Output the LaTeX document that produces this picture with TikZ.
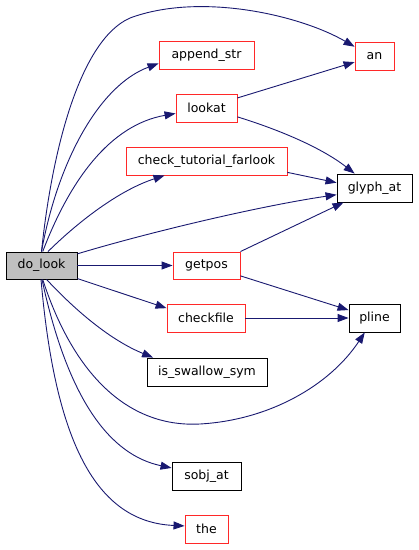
\documentclass[tikz,border=0pt]{standalone}
\usepackage{fontspec}
\setmainfont{DejaVu Sans}
\usetikzlibrary{arrows.meta}
\definecolor{edgeblue}{RGB}{25,25,112}
\definecolor{linkred}{RGB}{255,40,40}
\definecolor{rootgrey}{RGB}{191,191,191}
\tikzset{every node/.style={font=\fontsize{12.5}{14}\selectfont},line cap=round,line join=round,
  fn/.style={draw=black,line width=0.9pt,fill=white,minimum height=28pt,inner sep=0pt},
  fnlink/.style={fn,draw=linkred},
  call/.style={draw=edgeblue,line width=0.9pt,-{Triangle[length=11pt,width=8pt]}}}

\begin{document}
\begin{tikzpicture}[x=1pt,y=-1pt]
  \path[use as bounding box] (0,0) rectangle (419,550);
  % callers column
  \node[fn,fill=rootgrey,minimum width=71pt,minimum height=27pt] (do_look) at (41.5,265.5) {do\_look};
  % called functions
  \node[fnlink,minimum width=95pt] (append_str) at (206.5,55) {append\_str};
  \node[fnlink,minimum width=61pt] (lookat) at (206.5,108) {lookat};
  \node[fnlink,minimum width=161pt] (check_tut) at (206.5,161) {check\_tutorial\_farlook};
  \node[fnlink,minimum width=67pt,minimum height=27pt] (getpos) at (206.5,265.5) {getpos};
  \node[fnlink,minimum width=78pt] (checkfile) at (206,318) {checkfile};
  \node[fn,minimum width=120pt] (is_swallow) at (207,372) {is\_swallow\_sym};
  \node[fn,minimum width=69pt] (sobj_at) at (206.5,476) {sobj\_at};
  \node[fnlink,minimum width=43pt] (the) at (206.5,529) {the};
  % right column
  \node[fnlink,minimum width=39pt] (an) at (374.5,56) {an};
  \node[fn,minimum width=75pt] (glyph_at) at (374.5,188) {glyph\_at};
  \node[fn,minimum width=51pt] (pline) at (374.5,318) {pline};

  % calls from do_look
  \draw[call] (do_look.north) .. controls (52,150) and (80,40) .. (130,18)
    .. controls (200,-8) and (300,15) .. (an.155);
  \draw[call] (do_look.north) .. controls (58,160) and (100,85) .. (append_str.190);
  \draw[call] (do_look.85) .. controls (70,180) and (110,125) .. (lookat.190);
  \draw[call] (do_look.65) .. controls (80,220) and (120,190) .. (check_tut.199);
  \draw[call] (do_look.18) .. controls (150,232) and (260,206) .. (glyph_at.190);
  \draw[call] (do_look.east) -- (getpos.west);
  \draw[call] (do_look.-20) -- (checkfile.166);
  \draw[call] (do_look.-70) .. controls (75,310) and (110,340) .. (is_swallow.165);
  \draw[call] (do_look.-85) .. controls (72,370) and (125,428) .. (200,424)
    .. controls (270,420) and (330,385) .. (pline.236);
  \draw[call] (do_look.-88) .. controls (68,400) and (110,455) .. (sobj_at.167);
  \draw[call] (do_look.-92) .. controls (55,440) and (95,522) .. (the.172);
  % calls further down
  \draw[call] (lookat.18) -- (an.197);
  \draw[call] (lookat.-16) .. controls (280,130) and (322,148) .. (glyph_at.144);
  \draw[call] (check_tut.-8) -- (glyph_at.172);
  \draw[call] (getpos.north east) -- (glyph_at.205);
  \draw[call] (getpos.-17) -- (pline.163);
  \draw[call] (checkfile.east) -- (pline.west);
\end{tikzpicture}
\end{document}
